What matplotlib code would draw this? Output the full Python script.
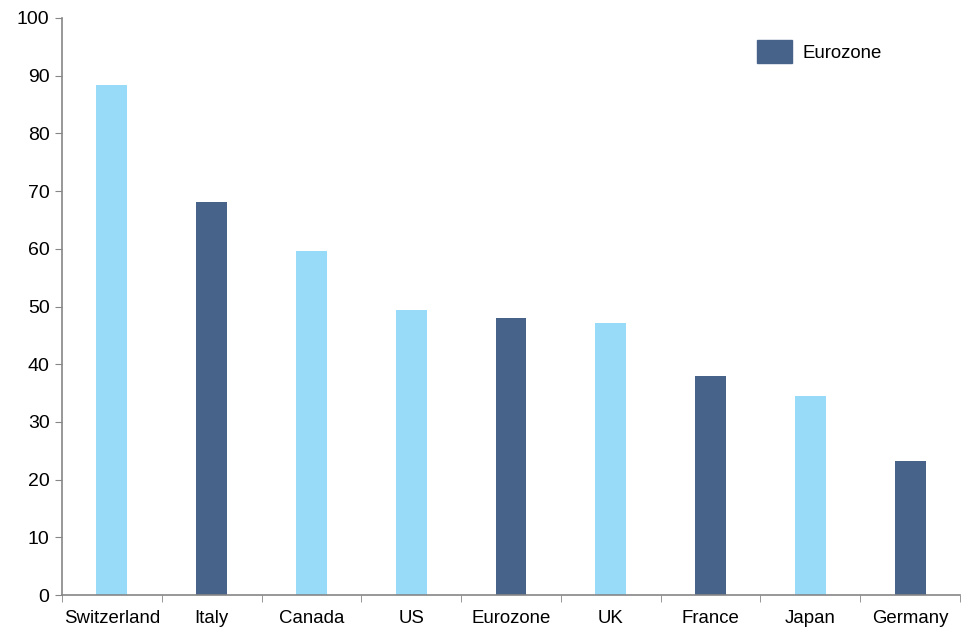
import numpy as np
import matplotlib
matplotlib.use("Agg")
import matplotlib.pyplot as plt
from matplotlib.patches import Patch

plt.rcParams['font.family'] = ['Liberation Sans', 'DejaVu Sans']

countries = ['Switzerland', 'Italy', 'Canada', 'US', 'Eurozone', 'UK', 'France', 'Japan', 'Germany']
values = [88.4, 68.1, 59.6, 49.4, 48.0, 47.1, 38.0, 34.5, 23.2]
is_euro = [False, True, False, False, True, False, True, False, True]

light = '#97DBF8'
dark = '#48638A'
axis_col = '#868686'

fig = plt.figure(figsize=(9.78, 6.36), dpi=100)
ax = fig.add_axes([62 / 978, 1 - 595 / 636, (960 - 62) / 978, (595 - 18) / 636])

x = np.arange(len(countries))
colors = [dark if e else light for e in is_euro]
ax.bar(x, values, width=0.31, color=colors)

ax.set_xlim(-0.5, len(countries) - 0.5)
ax.set_ylim(0, 100)
ax.set_yticks(np.arange(0, 101, 10))
ax.tick_params(axis='y', labelsize=14, length=5, color=axis_col, pad=4)

ax.set_xticks(x)
ax.set_xticklabels(countries)
ax.tick_params(axis='x', length=0, labelsize=13.4, pad=11)
ax.set_xticks(np.arange(-0.5, len(countries)), minor=True)
ax.tick_params(axis='x', which='minor', length=5, color=axis_col)

for s in ['top', 'right']:
    ax.spines[s].set_visible(False)
for s in ['left', 'bottom']:
    ax.spines[s].set_color(axis_col)
    ax.spines[s].set_linewidth(1.2)

fig.legend(handles=[Patch(color=dark, label='Eurozone')], loc='upper left',
           bbox_to_anchor=(757 / 978, 1 - 40 / 636), frameon=False, fontsize=13.4,
           borderpad=0, borderaxespad=0,
           handlelength=1.87, handleheight=1.55, handletextpad=0.58)

fig.savefig('out.png', dpi=100)
